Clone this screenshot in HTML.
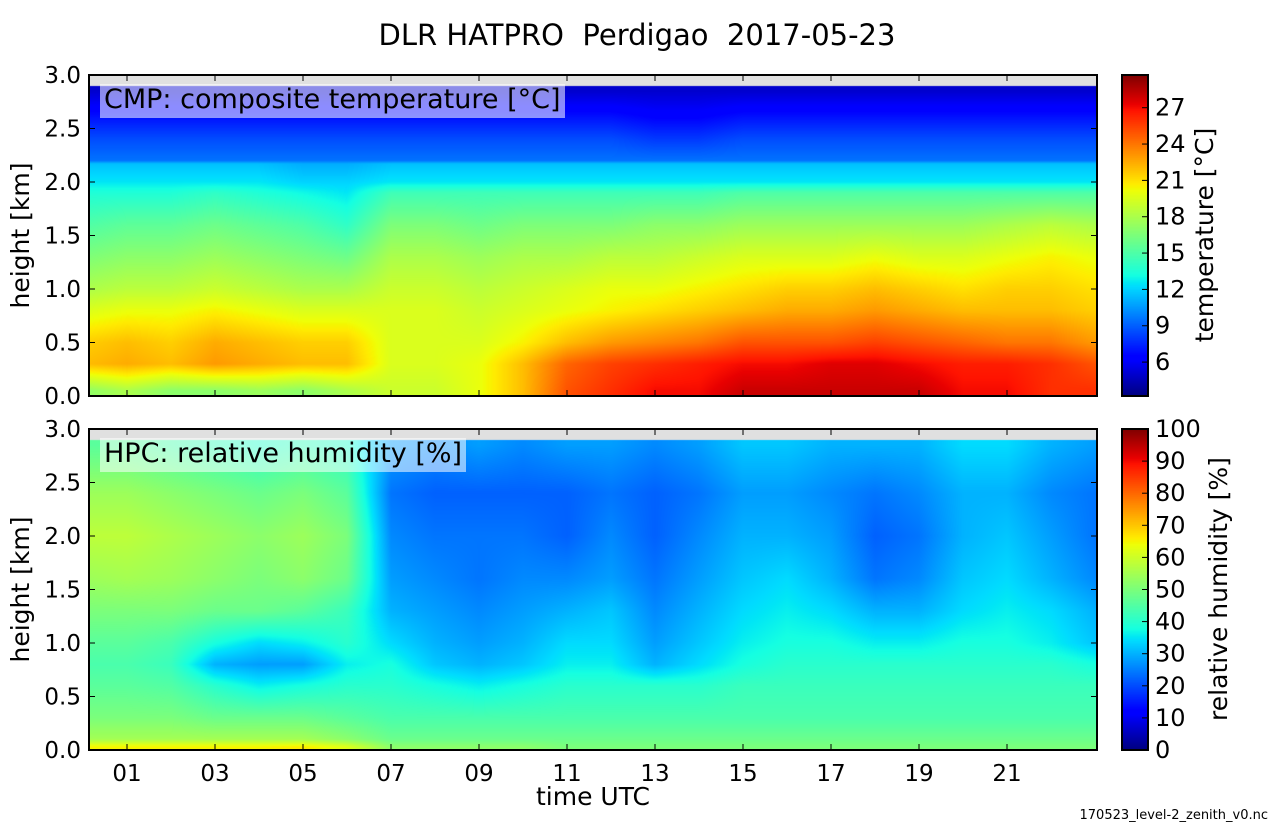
<!DOCTYPE html>
<html><head><meta charset="utf-8"><style>
body{margin:0;background:#fff;width:1275px;height:825px;overflow:hidden;position:relative;font-family:"Liberation Sans","DejaVu Sans",sans-serif}
canvas{position:absolute}
svg{position:absolute;left:0;top:0}
text{white-space:pre}
</style></head><body>
<canvas id="c1" width="1008" height="321" style="left:89px;top:75px"></canvas>
<canvas id="c2" width="1008" height="321" style="left:89px;top:429px"></canvas>
<canvas id="cb1" width="26" height="321" style="left:1122px;top:75px"></canvas>
<canvas id="cb2" width="26" height="321" style="left:1122px;top:429px"></canvas>
<svg id="ov" width="1275" height="825" font-family="DejaVu Sans, Liberation Sans, sans-serif"></svg>
<script>
const hours=[0,1,2,3,4,5,6,7,8,9,10,11,12,13,14,15,16,17,18,19,20,21,22,23];
const tHeights=[0.05,0.3,0.5,0.8,1.0,1.3,1.6,1.9,2.0,2.17,2.2,2.4,2.6,2.85];
const tempGrid=[
[17,18,17,17,17.5,17,18,19,19,20,22,25,26,27,27,28,28,28,28,28,27,27,26,26],
[22,22.5,22,23,22.5,22,22,19.5,19.5,20,22,24.5,25.5,26,26.5,27,27,27.5,27.5,27,26.5,26.5,26,25],
[21.5,22,21.5,22.5,22,21.5,21.5,19.5,19.5,19.5,20.5,22,23,23.5,24,25,25,25,25.5,25,24.5,24,24,23],
[19.5,20,20,20.5,20,19.5,19.5,19.5,19.5,19,19.5,20,20.5,21,21.5,22,22.5,22.5,23,22.5,22,22,22,21.5],
[18,18.5,18.5,19,18.5,18,18,19,19,18.5,19,19.5,20,20,20.5,21,21.5,21.5,22,21.5,21,21.5,21.5,21],
[16.5,17,17,17.5,17,16.5,16,18,18,17.5,18,18,18.5,18.5,19,19.5,19.5,19.5,20,19.5,19.5,20,20.5,20],
[15,15.5,15.5,16,15.5,15,14,16.5,16.5,16,16.5,16.5,16.5,17,17,17.5,17.5,17.5,17.5,17.5,17.5,18,18.5,18],
[13.5,13.5,13.5,14,13.5,13,12.5,14.5,14.5,14.5,14.5,14.5,14.5,14.5,14.5,15,15,15,15,15,15,15,15,15],
[12.5,12.5,12.5,12.5,12.5,12,12,12.5,12.5,12.5,12.5,12.5,12.5,12.5,12.5,12.5,12.5,12.5,12.5,12.5,12.5,12.5,12.5,12.5],
[11.5,11.5,11.5,11.5,11.5,11,11,11.5,11.5,11.5,11.5,11.5,11.5,11.5,11.5,11.5,11.5,11.5,11.5,11.5,11.5,11.5,11.5,11.5],
[9.5,9.5,9.5,9.5,9.5,9.5,9.5,9.5,9.5,9.5,9.5,9.5,9.5,9.5,9.5,9.5,9.5,9.5,9.5,9.5,9.5,9.5,9.5,9.5],
[8.5,8.5,8.5,8.5,8.5,8.5,8.5,8.5,8.5,8.5,8.5,8.5,8.5,8,8,8.5,8.5,8.5,8.5,8.5,8.5,8.5,8.5,8.5],
[7,7,7,7,7,7,7,7,7,7,7,7,7,6.5,6.5,7,7,7,7,7,7,7,7,7],
[5,5,5,5,5,5,5,5,5,5,5,5,5,5,5,5,5,5,5,5,5,5,5,5]];
const rhHeights=[0.03,0.1,0.3,0.6,0.8,1.0,1.3,1.6,2.0,2.4,2.85];
const rhGrid=[
[65,65,65,65,65,66,62,52,52,52,52,50,50,50,50,50,50,50,50,50,50,50,50,50],
[55,55,55,55,55,55,52,48,48,48,48,48,48,48,48,48,48,48,48,48,48,48,48,48],
[50,50,50,48,48,48,46,44,44,44,44,44,44,44,44,44,44,44,44,44,44,44,44,44],
[46,46,45,40,36,38,40,40,38,36,38,40,40,40,40,42,42,42,42,42,42,42,42,42],
[44,44,42,30,28,28,36,38,32,30,32,36,36,30,34,38,40,40,40,40,40,40,40,38],
[46,46,44,38,34,36,40,34,30,28,30,34,34,28,32,36,38,38,36,36,38,38,36,32],
[50,50,50,48,48,46,42,30,28,26,28,30,32,26,30,34,36,34,30,30,34,36,34,30],
[54,55,54,52,50,52,48,28,26,24,26,26,28,24,28,32,34,30,24,26,32,34,30,26],
[58,58,56,54,52,54,50,26,24,24,24,22,26,22,26,30,30,28,22,24,30,32,28,24],
[54,54,52,50,48,50,46,24,22,22,22,22,24,22,24,28,28,26,24,26,30,30,26,24],
[46,46,44,42,40,42,40,28,26,28,26,28,28,26,28,32,32,30,30,30,34,34,30,28]];
const xTickLabels=["01","03","05","07","09","11","13","15","17","19","21"];
const xTickVals=[1,3,5,7,9,11,13,15,17,19,21];
const yTickVals=[0,0.5,1.0,1.5,2.0,2.5,3.0];
const tTicks=[6,9,12,15,18,21,24,27];
const rhTicks=[0,10,20,30,40,50,60,70,80,90,100];
const T_MIN=3.2,T_MAX=29.7,RH_MIN=0,RH_MAX=100,DATA_TOP=2.9;

const X0=83,XS=44,PW=1008,PH=321,KM=107;
const xOf=h=>X0+XS*h;
function lerpTab(t,tab){for(let i=1;i<tab.length;i++){if(t<=tab[i][0]){const a=tab[i-1],b=tab[i];return a[1]+(b[1]-a[1])*(t-a[0])/(b[0]-a[0]);}}return tab[tab.length-1][1];}
function jet(t){t=Math.max(0,Math.min(1,t));
const r=lerpTab(t,[[0,0],[0.35,0],[0.66,1],[0.89,1],[1,0.5]]);
const g=lerpTab(t,[[0,0],[0.125,0],[0.375,1],[0.64,1],[0.91,0],[1,0]]);
const b=lerpTab(t,[[0,0.5],[0.11,1],[0.34,1],[0.65,0],[1,0]]);
return [r*255,g*255,b*255];}
function interp1(arr,v){if(v<=arr[0])return[0,0,0];for(let i=1;i<arr.length;i++)if(v<=arr[i])return[i-1,i,(v-arr[i-1])/(arr[i]-arr[i-1])];const n=arr.length-1;return[n,n,0];}
function sample(grid,hs,h,z){const[i0,i1,fz]=interp1(hs,z);const[j0,j1,ft]=interp1(hours,h);
const a=grid[i0][j0]*(1-ft)+grid[i0][j1]*ft,b=grid[i1][j0]*(1-ft)+grid[i1][j1]*ft;return a*(1-fz)+b*fz;}
function drawHeat(id,grid,hs,vmin,vmax){const c=document.getElementById(id).getContext('2d');const img=c.createImageData(PW,PH);
for(let py=0;py<PH;py++){const z=3-(py+0.5)/KM;for(let px=0;px<PW;px++){const k=(py*PW+px)*4;let col;
if(z>DATA_TOP)col=[224,224,224];else{const h=(89+px+0.5-X0)/XS;col=jet((sample(grid,hs,h,z)-vmin)/(vmax-vmin));}
img.data[k]=col[0];img.data[k+1]=col[1];img.data[k+2]=col[2];img.data[k+3]=255;}}c.putImageData(img,0,0);}
function drawBar(id){const c=document.getElementById(id).getContext('2d');for(let y=0;y<PH;y++){const col=jet(1-(y+0.5)/PH);c.fillStyle=`rgb(${col[0]|0},${col[1]|0},${col[2]|0})`;c.fillRect(0,y,26,1);}}
drawHeat('c1',tempGrid,tHeights,T_MIN,T_MAX);
drawHeat('c2',rhGrid,rhHeights,RH_MIN,RH_MAX);
drawBar('cb1');drawBar('cb2');

const NS='http://www.w3.org/2000/svg',ov=document.getElementById('ov');
function el(tag,attrs,txt){const e=document.createElementNS(NS,tag);for(const k in attrs)e.setAttribute(k,attrs[k]);if(txt!==undefined)e.textContent=txt;ov.appendChild(e);return e;}
function txt(x,y,s,size,anchor,name,rot){const e=el('text',{x:x,y:y,'font-size':size,'text-anchor':anchor||'start',fill:'#000'},s);


if(rot)e.setAttribute('transform',`rotate(-90 ${x} ${y})`);return e;}
txt(637,45,"DLR HATPRO  Perdigao  2017-05-23",29,'middle','chart-title');
[[75,'temp'],[429,'rh']].forEach(([top,key])=>{
 const box=el('rect',{x:89,y:top,width:PW,height:PH,fill:'none',stroke:'#000','stroke-width':2});
 
 
 yTickVals.forEach(v=>{const y=top+PH-v*KM;
  el('line',{x1:89,x2:95,y1:y,y2:y,stroke:'#000','stroke-width':1});
  el('line',{x1:1091,x2:1097,y1:y,y2:y,stroke:'#000','stroke-width':1});
  txt(81,y+8,v.toFixed(1),23,'end','y-tick-label');});
 xTickVals.forEach(h=>{const x=xOf(h);
  el('line',{x1:x,x2:x,y1:top+PH,y2:top+PH-6,stroke:'#000','stroke-width':1});
  el('line',{x1:x,x2:x,y1:top,y2:top+6,stroke:'#000','stroke-width':1});});
 txt(29,top+PH/2,'height [km]',25,'middle','y-axis-title',true);
 const cb=el('rect',{x:1122,y:top,width:26,height:PH,fill:'none',stroke:'#000','stroke-width':2});
 
 
});
xTickVals.forEach((h,i)=>{txt(xOf(h),781,xTickLabels[i],23,'middle','x-tick-label');});
txt(593,805,'time UTC',25,'middle','x-axis-title');
tTicks.forEach(v=>{const y=75+PH-(v-T_MIN)/(T_MAX-T_MIN)*PH;el('line',{x1:1142,x2:1148,y1:y,y2:y,stroke:'#000'});txt(1155,y+8,String(v),24,'start','temp-colorbar-tick');});
rhTicks.forEach(v=>{const y=429+PH-(v-RH_MIN)/(RH_MAX-RH_MIN)*PH;el('line',{x1:1142,x2:1148,y1:y,y2:y,stroke:'#000'});txt(1155,y+8,String(v),24,'start','rh-colorbar-tick');});
txt(1213,235,'temperature [°C]',25,'middle','temp-colorbar-title',true);
txt(1227,589,'relative humidity [%]',25,'middle','rh-colorbar-title',true);
let r1=el('rect',{x:100,y:84,width:465,height:34,fill:'#fff','fill-opacity':0.55});


txt(104,108,'CMP: composite temperature [°C]',27,'start','temp-panel-label');
let r2=el('rect',{x:100,y:438,width:366,height:34,fill:'#fff','fill-opacity':0.55});


txt(104,462,'HPC: relative humidity [%]',27,'start','rh-panel-label');
txt(1268,819,'170523_level-2_zenith_v0.nc',13,'end','source-filename');
</script>
</body></html>
